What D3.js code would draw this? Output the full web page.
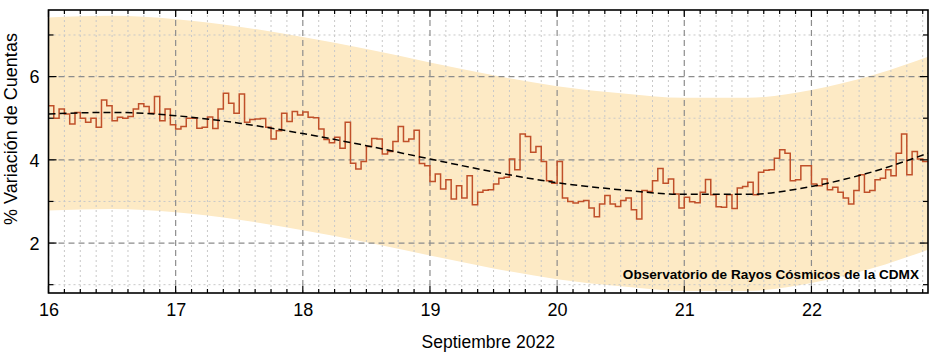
<!DOCTYPE html>
<html><head><meta charset="utf-8">
<script src="https://cdn.jsdelivr.net/npm/d3@7"></script>
<style>html,body{margin:0;padding:0;background:#fff;}svg{display:block;font-family:"Liberation Sans",Arial,sans-serif;}</style>
</head><body>
<svg id="chart" width="935" height="356"></svg>
<script>
// Hourly % variation of counts, starting Sept 16 00:00 (one value per hour)
const startDay = 16;
const hourlyValues = [
 5.30,5.00,5.22,5.10,4.86,5.14,5.00,4.90,5.00,4.78,5.44,5.30,4.94,5.02,5.00,5.04,5.22,5.35,5.28,5.12,5.52,4.94,5.22,4.84,
 4.74,4.80,5.00,5.00,4.76,4.78,5.03,4.75,5.22,5.60,5.36,5.12,5.58,4.90,4.97,4.98,4.99,4.78,4.50,4.70,5.12,4.92,5.16,5.08,
 5.15,5.02,5.01,4.74,4.49,4.41,4.54,4.28,4.90,3.92,3.78,3.96,4.32,4.51,4.50,4.14,4.20,4.44,4.80,4.44,4.50,4.71,3.91,3.86,
 3.48,3.66,3.30,3.52,3.06,3.38,3.08,3.62,2.92,3.22,3.27,3.28,3.42,3.56,3.58,4.02,3.76,4.62,4.56,4.18,4.32,3.96,3.50,3.44,
 3.96,3.08,3.00,2.96,3.00,3.02,2.84,2.63,2.94,3.14,2.94,2.88,3.02,3.08,2.80,2.58,3.26,3.24,3.50,3.79,3.44,3.54,3.18,2.84,
 3.10,2.99,2.97,3.22,3.53,3.16,2.87,2.86,3.16,2.83,3.32,3.36,3.46,3.16,3.70,3.75,3.76,4.04,4.24,4.16,3.50,3.52,3.86,3.86,
 3.42,3.38,3.54,3.28,3.34,3.22,3.08,2.94,3.26,3.64,3.22,3.26,3.52,3.56,3.76,3.62,4.16,4.62,3.64,4.20,4.02,3.96
];
// Trend curve and confidence band (day of month)
const trendDays  = [16, 16.5, 17, 17.5, 18, 18.5, 19, 19.5, 20, 20.5, 21, 21.5, 22, 22.5, 22.917];
const trendVals  = [5.10, 5.14, 5.06, 4.88, 4.63, 4.34, 4.02, 3.71, 3.45, 3.28, 3.17, 3.17, 3.36, 3.73, 4.16];
const bandUpper  = [7.42, 7.46, 7.38, 7.20, 6.95, 6.66, 6.34, 6.03, 5.77, 5.60, 5.49, 5.49, 5.68, 6.05, 6.48];
const bandLower  = [2.78, 2.82, 2.74, 2.56, 2.31, 2.02, 1.70, 1.39, 1.13, 0.96, 0.85, 0.85, 1.04, 1.41, 1.84];
const xTickLabels = ["16","17","18","19","20","21","22"];
const yTickLabels = ["2","4","6"];
const xTitle = "Septiembre 2022";
const yTitle = "% Variación de Cuentas";
const note = "Observatorio de Rayos Cósmicos de la CDMX";

const svg = d3.select("#chart");
const L = 48.5, R = 928, T = 10, B = 293;
const endDay = startDay + hourlyValues.length / 24;
const x = d3.scaleLinear().domain([startDay, endDay]).range([L, R]);
const y = d3.scaleLinear().domain([0.8, 7.6]).range([B, T]);

svg.append("defs").append("clipPath").attr("id","clip")
  .append("rect").attr("x",L).attr("y",T).attr("width",R-L).attr("height",B-T);
const g = svg.append("g").attr("clip-path","url(#clip)");

// band
const band = trendDays.map((d,i)=>({d, u:bandUpper[i], l:bandLower[i]}));
g.append("path").datum(band)
  .attr("fill","#fdeac5")
  .attr("d", d3.area().x(p=>x(p.d)).y0(p=>y(p.l)).y1(p=>y(p.u)).curve(d3.curveMonotoneX));

// grid
const minorX = d3.range(startDay*8, Math.floor(endDay*8)+1).map(v=>v/8).filter(v=>Math.abs(v-Math.round(v))>1e-6);
const majorX = xTickLabels.map(Number);
const minorY = [1,3,5,7];
const majorY = yTickLabels.map(Number);
g.selectAll(".gmx").data(minorX).enter().append("line")
  .attr("x1",d=>x(d)).attr("x2",d=>x(d)).attr("y1",T).attr("y2",B)
  .attr("stroke","#c8c8c8").attr("stroke-width",1).attr("stroke-dasharray","2,3");
g.selectAll(".gmy").data(minorY).enter().append("line")
  .attr("x1",L).attr("x2",R).attr("y1",d=>y(d)).attr("y2",d=>y(d))
  .attr("stroke","#c8c8c8").attr("stroke-width",1).attr("stroke-dasharray","2,3");
g.selectAll(".gMx").data(majorX).enter().append("line")
  .attr("x1",d=>x(d)).attr("x2",d=>x(d)).attr("y1",T).attr("y2",B)
  .attr("stroke","#8c8c8c").attr("stroke-width",1.2).attr("stroke-dasharray","6,4");
g.selectAll(".gMy").data(majorY).enter().append("line")
  .attr("x1",L).attr("x2",R).attr("y1",d=>y(d)).attr("y2",d=>y(d))
  .attr("stroke","#8c8c8c").attr("stroke-width",1.2).attr("stroke-dasharray","6,4");

// step line
const steps = hourlyValues.map((v,i)=>({d:startDay+i/24, v}));
steps.push({d:endDay, v:hourlyValues[hourlyValues.length-1]});
g.append("path").datum(steps)
  .attr("fill","none").attr("stroke","#c0502a").attr("stroke-width",1.5)
  .attr("d", d3.line().x(p=>x(p.d)).y(p=>y(p.v)).curve(d3.curveStepAfter));

// trend
g.append("path").datum(trendDays.map((d,i)=>({d, v:trendVals[i]})))
  .attr("fill","none").attr("stroke","#000").attr("stroke-width",1.5).attr("stroke-dasharray","7,4")
  .attr("d", d3.line().x(p=>x(p.d)).y(p=>y(p.v)).curve(d3.curveMonotoneX));

// inward ticks on all four sides
const allX = d3.range(startDay*8, Math.floor(endDay*8)+1).map(v=>v/8);
const ax = svg.append("g");
allX.forEach(v=>{
  const len = Math.abs(v-Math.round(v))<1e-6 ? 7 : 4;
  ax.append("line").attr("x1",x(v)).attr("x2",x(v)).attr("y1",B).attr("y2",B-len).attr("stroke","#000").attr("stroke-width",1.2);
  ax.append("line").attr("x1",x(v)).attr("x2",x(v)).attr("y1",T).attr("y2",T+len).attr("stroke","#000").attr("stroke-width",1.2);
});
const allY = [1,2,3,4,5,6,7];
allY.forEach(v=>{
  const len = v%2===0 ? 8 : 5;
  ax.append("line").attr("x1",L).attr("x2",L+len).attr("y1",y(v)).attr("y2",y(v)).attr("stroke","#000").attr("stroke-width",1.2);
  ax.append("line").attr("x1",R).attr("x2",R-len).attr("y1",y(v)).attr("y2",y(v)).attr("stroke","#000").attr("stroke-width",1.2);
});

// tick labels via d3 axes
const xAxis = d3.axisBottom(x).tickValues(majorX).tickSize(0).tickPadding(0).tickFormat((d,i)=>xTickLabels[i]);
const gx = svg.append("g").attr("transform",`translate(0,${B})`).call(xAxis);
gx.select(".domain").remove();
gx.selectAll("text").attr("font-size",18).attr("fill","#000").attr("dy",null).attr("y",23)
  .attr("font-family","Liberation Sans, Arial, sans-serif");
const yAxis = d3.axisLeft(y).tickValues(majorY).tickSize(0).tickPadding(0).tickFormat((d,i)=>yTickLabels[i]);
const gy = svg.append("g").attr("transform",`translate(${L},0)`).call(yAxis);
gy.select(".domain").remove();
gy.selectAll("text").attr("font-size",18).attr("fill","#000").attr("x",-9).attr("dy","0.35em")
  .attr("font-family","Liberation Sans, Arial, sans-serif");

// frame
svg.append("rect").attr("x",L).attr("y",T).attr("width",R-L).attr("height",B-T)
  .attr("fill","none").attr("stroke","#000").attr("stroke-width",1.6);

// titles
svg.append("text").attr("x",(L+R)/2).attr("y",348).attr("text-anchor","middle")
  .attr("font-size",17.5).text(xTitle);
svg.append("text").attr("transform",`translate(17,129) rotate(-90)`).attr("text-anchor","middle")
  .attr("font-size",18).text(yTitle);
svg.append("text").attr("x",919).attr("y",279).attr("text-anchor","end")
  .attr("font-size",13.6).attr("font-weight","bold").text(note);
</script>
</body></html>
